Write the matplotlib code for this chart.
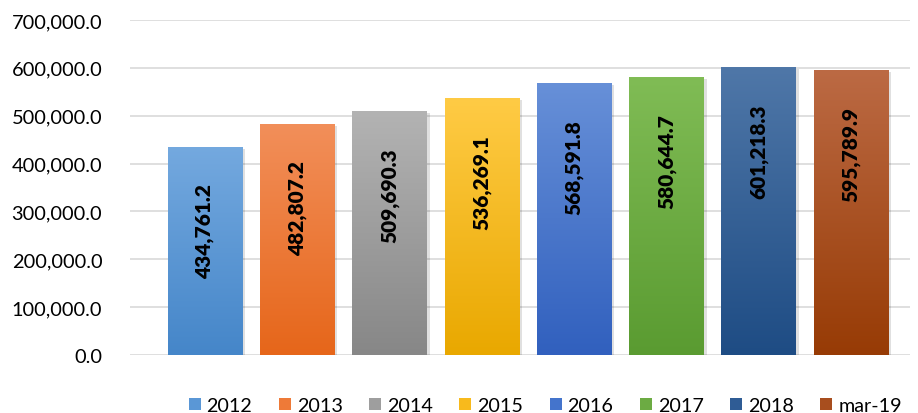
import numpy as np
import matplotlib
matplotlib.use('Agg')
import matplotlib.pyplot as plt
from matplotlib.colors import LinearSegmentedColormap
from matplotlib.patches import Patch

# --- data ---
labels = ['2012', '2013', '2014', '2015', '2016', '2017', '2018', 'mar-19']
values = [434761.2, 482807.2, 509690.3, 536269.1, 568591.8, 580644.7, 601218.3, 595789.9]
y_ticks = [0, 100000, 200000, 300000, 400000, 500000, 600000, 700000]

# top / bottom colours for the gradient fill
tops = ['#74A9DF', '#F28F5A', '#B3B3B3', '#FFCB45', '#6790D8', '#80BC55', '#4F77A8', '#BC6A44']
bottoms = ['#4586C9', '#E6661A', '#878787', '#E9A800', '#3160BE', '#5A9B31', '#1E4C84', '#973B05']

plt.rcParams['font.family'] = ['Lato', 'DejaVu Sans']

fig = plt.figure(figsize=(9.18, 4.14), dpi=100)
ax = fig.add_axes([130 / 918, 1 - 356 / 414, 780 / 918, 335 / 414])

x = np.arange(len(values))
width = 0.81
bars = ax.bar(x, values, width=width, color='none', edgecolor='none', zorder=3)

grad = np.linspace(1, 0, 256).reshape(-1, 1)
for b, top, bot, v in zip(bars, tops, bottoms, values):
    cmap = LinearSegmentedColormap.from_list('g', [bot, top])
    x0 = b.get_x()
    # soft shadow
    ax.bar(b.get_x() + b.get_width() / 2 + 0.03, v, width=width, bottom=-4000,
           color='#000000', alpha=0.12, zorder=2, edgecolor='none')
    im = ax.imshow(grad, cmap=cmap, aspect='auto', extent=(x0, x0 + width, 0, v),
                   zorder=3, vmin=0, vmax=1)
    im.set_clip_path(b)
    # label sits a fixed distance below the bar top
    ax.annotate(f'{v:,.1f}', (b.get_x() + b.get_width() / 2, v), xytext=(0, -26),
                textcoords='offset points', rotation=90, ha='center', va='top',
                fontsize=15, fontweight='heavy', color='black', zorder=4)

ax.set_xlim((130 - 205) / 92.3, (910 - 205) / 92.3)
ax.set_ylim(0, 700000)
ax.set_yticks(y_ticks)
ax.set_yticklabels([f'{t:,.1f}' for t in y_ticks], fontsize=14.4)
ax.set_xticks([])
ax.tick_params(axis='y', length=0, pad=20)
ax.grid(axis='y', color='#D9D9D9', linewidth=1.2, zorder=0)
ax.set_axisbelow(True)
for s in ax.spines.values():
    s.set_visible(False)

handles = [Patch(facecolor=c, edgecolor='none') for c in
           ['#5A97D6', '#EE7A38', '#9E9E9E', '#F8BA1C', '#4474CC', '#6CAB43', '#2F5C95', '#A84E1E']]
fig.legend(handles, labels, loc='lower center', ncol=8, frameon=False,
           bbox_to_anchor=(0.594, -0.045), fontsize=14.2, handlelength=0.6,
           handleheight=0.6, handletextpad=0.3, columnspacing=1.35)

fig.savefig('out.png', dpi=100, facecolor='white')
